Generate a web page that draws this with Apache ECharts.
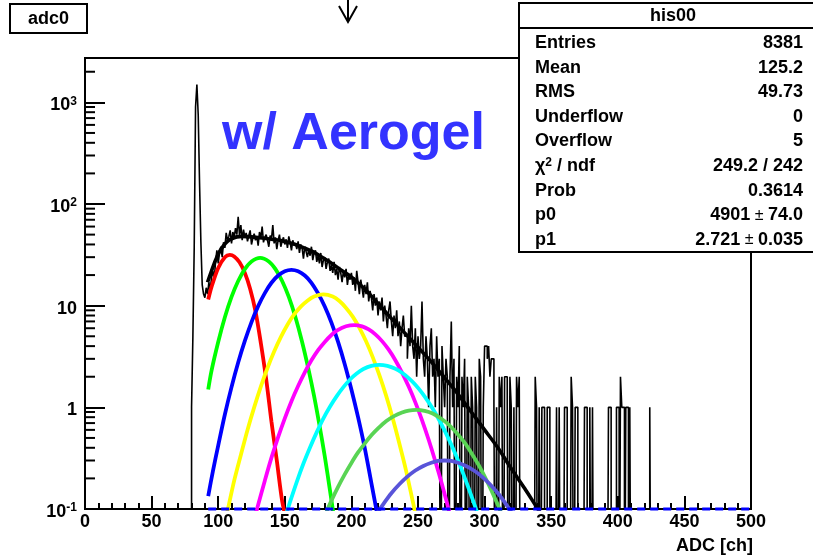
<!DOCTYPE html>
<html><head><meta charset="utf-8">
<script src="https://cdn.jsdelivr.net/npm/echarts@6/dist/echarts.min.js"></script>
<style>html,body{margin:0;padding:0;background:#fff}#c{width:813px;height:559px}</style>
</head><body><div id="c"></div>
<script>
// ---------- DATA ----------
const histFirstBin = 80; // counts per 1-ch bin, starting at ADC 80
const histCounts = [
 1,5,38,900,1500,750,160,42,16,13,
 12,15,13,17,14,19,22,18,27,35,
 26,33,38,30,42,37,52,44,48,55,
 41,53,47,58,50,75,49,62,44,56,
 47,52,43,49,55,40,46,51,44,48,
 39,53,46,60,42,47,50,44,38,49,
 45,62,41,47,36,44,50,38,43,47,
 40,45,37,48,42,35,44,39,41,36,
 43,33,40,37,29,38,34,30,36,31,
 38,28,33,35,27,31,26,33,24,28,
 30,23,27,29,22,25,21,27,20,23,
 18,24,21,17,22,19,23,16,20,18,
 21,16,19,14,22,17,13,18,15,12,
 16,13,17,11,14,12,9,13,10,12,
 8,11,9,12,7,10,8,6,9,11,
 7,5,8,6,9,5,7,4,6,8,
 5,5,3,6,4,10,4,3,6,2,
 5,3,4,11,3,2,5,3,1,4,
 6,2,3,1,5,2,3,0,4,2,
 1,3,2,0,2,7,1,3,0,2,
 1,4,0,2,1,3,0,2,1,0,
 2,1,0,2,1,0,3,2,0,1,
 4,4,3,4,2,3,3,1,0,1,
 0,2,1,2,0,2,2,1,0,2,
 1,0,1,0,2,1,2,0,0,0,
 0,0,0,0,0,0,0,0,2,1,
 0,1,0,1,1,0,0,1,1,0,
 0,0,0,0,1,0,1,0,0,0,
 1,1,0,0,0,2,1,0,1,1,
 0,0,0,0,0,1,1,0,0,1,
 0,1,0,0,0,0,0,0,0,0,
 0,0,0,1,1,0,0,0,0,1,
 1,0,2,1,1,0,1,1,0,1,
 0,0,0,0,0,0,0,0,0,0,
 0,0,0,0,1,0,0,0,0,0,
 0
];
const fitTotal = [[92,17],[95,22],[98,28],[101,34],[104,39],[107,43],[110,45.5],[114,47.5],[118,48],[125,47.5],[133,46.3],[140,45],[146,44],[152,42],[158,40],[164,37.3],[171,34],[177,30.5],[184,26.8],[191,23],[198,20],[205,16.8],[212,13.7],[220,10.5],[230,7.5],[240,5.4],[250,3.9],[260,2.8],[270,1.95],[280,1.35],[290,0.9],[300,0.6],[310,0.4],[320,0.25],[330,0.16],[340,0.1],[345,0.08]];
const pe1 = [[92.5,11.5],[95,15.3],[100,23.5],[105,30],[108.75,31.6],[112,30.5],[116,26.7],[120,21],[124,14.6],[128,8.8],[132,4.3],[136,1.9],[140,0.72],[144,0.3],[148,0.12],[151,0.08]];
const pe2 = [[92.5,1.5],[95,2.3],[100,4.4],[105,7.7],[110,12.2],[115,17.5],[120,22.9],[125,27.2],[131.5,29.5],[138,27.2],[143,22.9],[148,17.5],[153,12.2],[158,7.7],[163,4.4],[168,2.3],[172,1.29],[176,0.67],[180,0.33],[184,0.15],[188,0.066]];
const pe3 = [[92.5,0.134],[96,0.235],[100,0.42],[105,0.85],[110,1.58],[115,2.76],[120,4.5],[125,6.9],[130,9.9],[135,13.3],[140,16.8],[145,19.8],[150,21.8],[155,22.5],[160,21.8],[165,19.8],[170,16.8],[175,13.2],[180,9.8],[185,6.8],[190,4.4],[195,2.66],[200,1.5],[205,0.8],[210,0.4],[215,0.18],[220,0.08],[224,0.039]];
const pe4 = [[105,0.073],[108,0.11],[112,0.19],[117,0.34],[122,0.6],[127,1.0],[132,1.6],[137,2.44],[142,3.54],[147,4.9],[152,6.5],[157,8.2],[162,9.8],[167,11.2],[172,12.3],[179,12.9],[186,12.3],[191,11.1],[196,9.5],[201,7.8],[206,6.05],[211,4.46],[216,3.12],[221,2.07],[226,1.31],[231,0.78],[236,0.44],[241,0.24],[246,0.12],[250,0.069]];
const pe5 = [[126,0.07],[130,0.11],[135,0.19],[140,0.32],[145,0.51],[150,0.78],[155,1.15],[160,1.62],[165,2.21],[170,2.9],[175,3.65],[180,4.4],[185,5.15],[190,5.77],[196,6.27],[202,6.45],[208,6.26],[213,5.83],[218,5.22],[223,4.48],[228,3.69],[233,2.91],[238,2.2],[243,1.6],[248,1.12],[253,0.75],[258,0.48],[263,0.295],[268,0.175],[273,0.099],[277,0.061]];
const pe6 = [[150,0.081],[154,0.118],[159,0.185],[164,0.28],[169,0.405],[174,0.57],[179,0.78],[184,1.02],[189,1.29],[194,1.58],[199,1.88],[204,2.15],[209,2.38],[215,2.56],[221,2.62],[227,2.56],[233,2.4],[238,2.19],[243,1.94],[248,1.67],[253,1.39],[258,1.12],[263,0.88],[268,0.665],[273,0.49],[278,0.35],[283,0.24],[288,0.16],[293,0.105],[297,0.072]];
const pe7 = [[180,0.086],[185,0.121],[190,0.165],[195,0.219],[200,0.284],[205,0.36],[210,0.44],[215,0.53],[220,0.62],[226,0.73],[232,0.82],[238,0.89],[243,0.93],[248.75,0.946],[255,0.925],[261,0.87],[267,0.78],[273,0.675],[279,0.56],[285,0.45],[291,0.34],[297,0.25],[303,0.174],[309,0.117],[314,0.082]];
const pe8 = [[220,0.094],[225,0.117],[230,0.143],[236,0.175],[242,0.208],[248,0.239],[254,0.265],[260,0.285],[265,0.297],[270,0.3],[275,0.297],[280,0.285],[286,0.265],[292,0.239],[298,0.208],[304,0.175],[310,0.143],[315,0.117],[320,0.094]];
const componentColors = ['#ff0000','#00ff00','#0000ff','#ffff00','#ff00ff','#00ffff','#59d454','#5954d9'];
const baselineRange = [92.5, 500];
const yTickLabels = {'-1':'10{sup|-1}','0':'1','1':'10','2':'10{sup|2}','3':'10{sup|3}'};
const statsTitle = 'his00';
const statsNames = ['Entries','Mean','RMS','Underflow','Overflow','{b|χ}{s|2}{b| / ndf}','Prob','p0','p1'];
const statsValues = ['8381','125.2','49.73','0','5','249.2 / 242','0.3614','4901{n| ± }74.0','2.721{n| ± }0.035'];
const histTitle = 'adc0';
const xTitle = 'ADC [ch]';
const annotation = 'w/ Aerogel';
const yMin = 0.1, yMax = 2730;

// ---------- BUILD ----------
const FONT = '"Liberation Sans", Arial, Helvetica, sans-serif';
const histData = [[0, 0.001]];
histCounts.forEach((c, i) => histData.push([histFirstBin + i, c > 0 ? c : 0.001]));
histData.push([histFirstBin + histCounts.length, 0.001]);
histData.push([500, 0.001]);

const minorTicks = [];
for (let k = -1; k <= 3; k++) for (let m = 2; m <= 9; m++) { const v = m * Math.pow(10, k); if (v < yMax) minorTicks.push([0, v]); }

const comps = [pe1, pe2, pe3, pe4, pe5, pe6, pe7, pe8];
const series = [
  { type: 'line', data: histData, step: 'end', showSymbol: false, symbol: 'none', silent: true,
    lineStyle: { color: '#000', width: 1.6 }, z: 2, animation: false }
];
comps.forEach((d, i) => series.push({ type: 'line', data: d, smooth: 0.3, symbol: 'none', silent: true,
  lineStyle: { color: componentColors[i], width: 3.8 }, z: 3, animation: false }));
series.push({ type: 'line', data: fitTotal, smooth: 0.3, symbol: 'none', silent: true,
  lineStyle: { color: '#000', width: 3.6 }, z: 4, animation: false });
// dashed blue baseline where the component curves run along the minimum
series.push({ type: 'custom', data: [[baselineRange[0], yMin, baselineRange[1]]], silent: true, z: 20, animation: false,
  renderItem: function (params, api) {
    const a = api.coord([api.value(0), api.value(1)]);
    const b = api.coord([api.value(2), api.value(1)]);
    return { type: 'line', shape: { x1: a[0], y1: a[1], x2: b[0], y2: b[1] }, style: { stroke: '#0000ff', lineWidth: 3, lineDash: [8, 5] } };
  } });
series.push({ type: 'custom', data: minorTicks, silent: true, z: 6, animation: false,
  renderItem: function (params, api) {
    const p = api.coord([0, api.value(1)]);
    return { type: 'line', shape: { x1: p[0], y1: p[1], x2: p[0] + 10, y2: p[1] }, style: { stroke: '#000', lineWidth: 2 } };
  } });

const graphics = [];
graphics.push({ type: 'rect', shape: { x: 519, y: 3, width: 310, height: 249 }, style: { fill: '#fff', stroke: '#000', lineWidth: 2 }, z: 100 });
graphics.push({ type: 'line', shape: { x1: 519, y1: 28, x2: 813, y2: 28 }, style: { stroke: '#000', lineWidth: 2 }, z: 101 });
graphics.push({ type: 'text', x: 673, y: 16, style: { text: statsTitle, font: 'bold 18px ' + FONT, fill: '#000', align: 'center', verticalAlign: 'middle', textAlign: 'center', textVerticalAlign: 'middle' }, z: 101 });
const richStats = {
  b: { font: 'bold 18px ' + FONT, fill: '#000' },
  s: { font: 'bold 12px ' + FONT, fill: '#000', verticalAlign: 'top', padding: [0, 0, 6, 0] },
  n: { font: '16px ' + FONT, fill: '#000' }
};
statsNames.forEach((nm, i) => {
  const y = 43 + i * 24.6;
  graphics.push({ type: 'text', x: 535, y: y, z: 101, style: { text: nm, font: 'bold 18px ' + FONT, fill: '#000', rich: richStats, align: 'left', verticalAlign: 'middle', textAlign: 'left', textVerticalAlign: 'middle' } });
  graphics.push({ type: 'text', x: 803, y: y, z: 101, style: { text: statsValues[i], font: 'bold 18px ' + FONT, fill: '#000', rich: richStats, align: 'right', verticalAlign: 'middle', textAlign: 'right', textVerticalAlign: 'middle' } });
});
graphics.push({ type: 'rect', shape: { x: 10, y: 4, width: 77, height: 29 }, style: { fill: '#fff', stroke: '#000', lineWidth: 2 }, z: 100 });
graphics.push({ type: 'text', x: 48.5, y: 19, z: 101, style: { text: histTitle, font: 'bold 18px ' + FONT, fill: '#000', align: 'center', verticalAlign: 'middle', textAlign: 'center', textVerticalAlign: 'middle' } });
graphics.push({ type: 'polyline', shape: { points: [[348, 0], [348, 22]] }, style: { stroke: '#000', lineWidth: 2, fill: null }, z: 100 });
graphics.push({ type: 'polyline', shape: { points: [[339, 6], [348, 22], [357, 6]] }, style: { stroke: '#000', lineWidth: 2, fill: null }, z: 100 });
graphics.push({ type: 'text', x: 222, y: 135, z: 100, style: { text: annotation, font: 'bold 52px ' + FONT, fill: '#3333ff', align: 'left', verticalAlign: 'middle', textAlign: 'left', textVerticalAlign: 'middle' } });
graphics.push({ type: 'text', x: 753, y: 546, z: 100, style: { text: xTitle, font: 'bold 18px ' + FONT, fill: '#000', align: 'right', verticalAlign: 'middle', textAlign: 'right', textVerticalAlign: 'middle' } });

const chart = echarts.init(document.getElementById('c'), null, { renderer: 'canvas' });
chart.setOption({
  animation: false,
  backgroundColor: '#fff',
  grid: { left: 85, top: 58, width: 666, height: 451, show: true, borderColor: '#000', borderWidth: 2, containLabel: false, outerBoundsMode: 'none' },
  xAxis: {
    type: 'value', min: 0, max: 500, interval: 50,
    axisLine: { show: true, onZero: false, lineStyle: { color: '#000', width: 2 } },
    axisTick: { show: true, inside: true, length: 13, lineStyle: { color: '#000', width: 2 } },
    minorTick: { show: true, splitNumber: 5, length: 6, lineStyle: { color: '#000', width: 2 } },
    splitLine: { show: false },
    axisLabel: { margin: 4, color: '#000', fontFamily: FONT, fontWeight: 'bold', fontSize: 18 }
  },
  yAxis: {
    type: 'log', logBase: 10, min: yMin, max: yMax,
    axisLine: { show: true, lineStyle: { color: '#000', width: 2 } },
    axisTick: { show: true, inside: true, length: 20, lineStyle: { color: '#000', width: 2 } },
    splitLine: { show: false },
    axisLabel: {
      margin: 8, padding: [6, 0, 0, 0], color: '#000', fontFamily: FONT, fontWeight: 'bold', fontSize: 18,
      formatter: function (v) {
        const l = Math.log10(v), r = Math.round(l);
        if (Math.abs(l - r) > 1e-6) return '';
        return yTickLabels[String(r)] || '';
      },
      rich: { sup: { fontFamily: FONT, fontWeight: 'bold', fontSize: 12, verticalAlign: 'top', padding: [0, 0, 8, 0], color: '#000' } }
    }
  },
  series: series,
  graphic: graphics
});
</script></body></html>
